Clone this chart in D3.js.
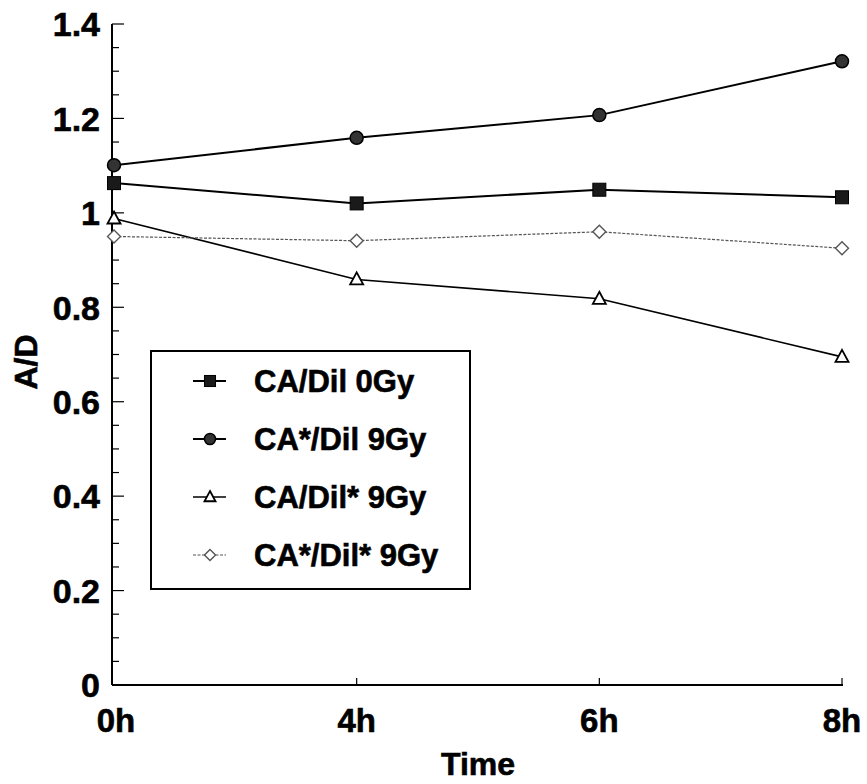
<!DOCTYPE html>
<html><head><meta charset="utf-8">
<script src="https://cdn.jsdelivr.net/npm/d3@7"></script>
<style>body{margin:0;background:#fff;} text{font-family:"Liberation Sans",Arial,sans-serif;font-weight:bold;fill:#000;stroke:#000;stroke-width:0.6px;}</style>
</head><body>
<svg id="c" width="867" height="784"></svg>
<script>
const timeLabels = ["0h","4h","6h","8h"];
const seriesNames = ["CA/Dil 0Gy","CA*/Dil 9Gy","CA/Dil* 9Gy","CA*/Dil* 9Gy"];
const sqValues = [1.063, 1.020, 1.049, 1.033];
const circValues = [1.101, 1.159, 1.207, 1.321];
const triValues = [0.988, 0.859, 0.818, 0.695];
const diaValues = [0.950, 0.941, 0.960, 0.925];
const yTicks = [0, 0.2, 0.4, 0.6, 0.8, 1, 1.2, 1.4];

const svg = d3.select("#c");
const x = d3.scalePoint().domain(timeLabels).range([114, 842]);
const y = d3.scaleLinear().domain([0, 1.4]).range([685, 24]);

// axes
const ax = svg.append("g");
ax.append("line").attr("x1", 112).attr("x2", 112).attr("y1", y(1.4)).attr("y2", y(0)).attr("stroke","#000").attr("stroke-width",2);
ax.append("line").attr("x1", 112).attr("x2", 843).attr("y1", y(0)).attr("y2", y(0)).attr("stroke","#000").attr("stroke-width",2);
const minor = d3.range(0, 1.4001, 0.05);
ax.selectAll(".ym").data(minor).enter().append("line")
  .attr("x1",112).attr("x2", (d,i)=> i%4===0 ? 124 : 119)
  .attr("y1", d=>y(d)).attr("y2", d=>y(d)).attr("stroke","#000").attr("stroke-width",1.2);
ax.selectAll(".yl").data(yTicks).enter().append("text")
  .attr("x", 100).attr("y", d=>y(d)).attr("dy","0.36em").attr("text-anchor","end")
  .attr("font-size", 34).text(d=> d3.format("~g")(d));
ax.selectAll(".xt").data(timeLabels.slice(1)).enter().append("line")
  .attr("x1", d=>x(d)).attr("x2", d=>x(d)).attr("y1", y(0)).attr("y2", y(0)-7)
  .attr("stroke","#000").attr("stroke-width",1.2);
ax.selectAll(".xl").data(timeLabels).enter().append("text")
  .attr("x", (d,i)=> x(d) + (i===0?2:0)).attr("y", 732).attr("text-anchor","middle")
  .attr("font-size", 33).text(d=>d);
svg.append("text").attr("x", 478).attr("y", 775).attr("text-anchor","middle").attr("font-size",32).text("Time");
svg.append("text").attr("transform","translate(37,362) rotate(-90)").attr("text-anchor","middle").attr("font-size",32).text("A/D");

const series = [
  {name: seriesNames[0], vals: sqValues, type:"square", line:"#000", lw:2, dash:null},
  {name: seriesNames[1], vals: circValues, type:"circle", line:"#000", lw:2, dash:null},
  {name: seriesNames[2], vals: triValues, type:"triangle", line:"#000", lw:1.6, dash:null},
  {name: seriesNames[3], vals: diaValues, type:"diamond", line:"#555", lw:1.2, dash:"3,1.5"}
];

function marker(g, type, cx, cy, s) {
  if (type==="square") g.append("rect").attr("x",cx-6.5*s).attr("y",cy-6.5*s).attr("width",13*s).attr("height",13*s).attr("fill","#1a1a1a").attr("stroke","#000");
  else if (type==="circle") g.append("circle").attr("cx",cx).attr("cy",cy).attr("r",6.5*s).attr("fill","#333").attr("stroke","#000").attr("stroke-width",1.5);
  else if (type==="triangle") g.append("path").attr("d",`M${cx},${cy-7*s}L${cx+6.5*s},${cy+5*s}L${cx-6.5*s},${cy+5*s}Z`).attr("fill","#fff").attr("stroke","#000").attr("stroke-width",1.8);
  else g.append("path").attr("d",`M${cx},${cy-6.5*s}L${cx+6.5*s},${cy}L${cx},${cy+6.5*s}L${cx-6.5*s},${cy}Z`).attr("fill","#fff").attr("stroke","#555").attr("stroke-width",1.4);
}

const line = d3.line().x((d,i)=>x(timeLabels[i])).y(d=>y(d));
series.forEach(s=>{
  svg.append("path").attr("d", line(s.vals)).attr("fill","none").attr("stroke",s.line)
    .attr("stroke-width",s.lw).attr("stroke-dasharray",s.dash);
  const g = svg.append("g");
  s.vals.forEach((v,i)=>marker(g, s.type, x(timeLabels[i]), y(v), 1));
});

// legend
const lg = svg.append("g");
lg.append("rect").attr("x",151).attr("y",351).attr("width",319).attr("height",238).attr("fill","#fff").attr("stroke","#000").attr("stroke-width",2);
series.forEach((s,i)=>{
  const cy = 381 + i*58;
  lg.append("line").attr("x1",193).attr("x2",226).attr("y1",cy).attr("y2",cy).attr("stroke",s.line).attr("stroke-width",s.lw).attr("stroke-dasharray",s.dash);
  marker(lg, s.type, 210, cy, 0.85);
  lg.append("text").attr("x",254).attr("y",cy).attr("dy","0.36em").attr("font-size",31).text(s.name);
});
</script>
</body></html>
